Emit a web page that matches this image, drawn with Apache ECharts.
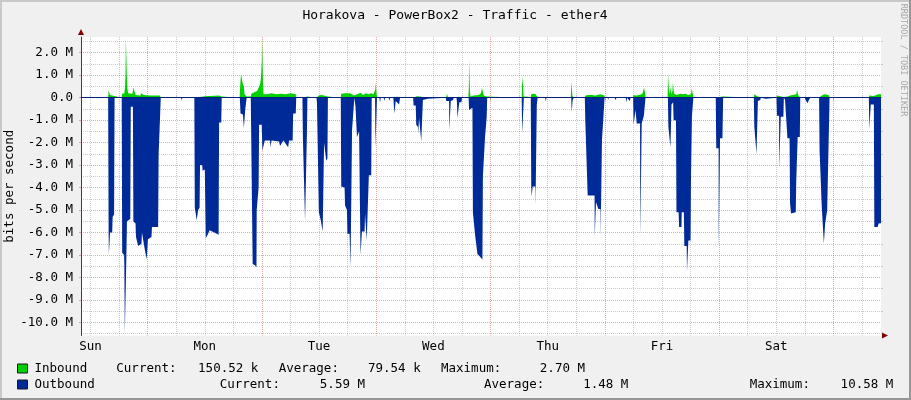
<!DOCTYPE html>
<html><head><meta charset="utf-8">
<script src="https://cdn.jsdelivr.net/npm/echarts@6.0.0/dist/echarts.min.js"></script>
<style>html,body{margin:0;padding:0;background:#F0F0F0}#c{width:911px;height:400px}</style>
</head><body><div id="c"></div><script>
// ---- data (hours since start of graph = Sun 10:00; values in Mbit/s, outbound drawn negative) ----
const START_HOUR = 10;           // graph starts Sunday 10:00 (hours since Sun 00:00)
const SPAN_HOURS = 168;
const dayLabels = ['Sun','Mon','Tue','Wed','Thu','Fri','Sat'];
const yTickValues = [-10,-9,-8,-7,-6,-5,-4,-3,-2,-1,0,1,2];
const yMin = -10.58, yMax = 2.70;
const legendNames = ['Inbound','Outbound'];
const inboundStats = ['150.52 k','79.54 k','2.70 M'];   // current, average, maximum
const outboundStats = ['5.59 M','1.48 M','10.58 M'];
const statLabels = ['Current:','Average:','Maximum:'];

const inbound = [
[0,0],[5.7,0],[5.8,0.33],[5.95,0.28],[6.1,0.12],[7.0,0.08],[7.05,0],
[8.55,0],[8.65,0.18],[9.1,0.2],[9.25,0.5],[9.35,1.0],[9.42,2.7],[9.55,2.7],[9.62,1.0],[9.75,0.4],[9.9,0.2],[10.8,0.18],[11.0,0.45],[11.2,0.3],[11.5,0.12],[12.5,0.1],[12.6,0.2],[13.0,0.18],[13.2,0.12],[14.5,0.1],[14.7,0.18],[15.0,0.1],[16.6,0.1],[16.75,0],
[23.8,0],[23.9,0.06],[26.0,0.06],[26.2,0.1],[29.0,0.1],[29.5,0.05],[29.55,0],
[33.3,0],[33.45,0.6],[33.6,1.07],[33.72,1.07],[33.8,0.8],[34.0,0.6],[34.2,0.5],[34.35,0.15],[34.8,0.05],
[35.65,0.05],[35.8,0.18],[36.5,0.25],[37.0,0.3],[37.4,0.3],[37.6,0.6],[37.8,0.9],[37.95,1.6],[38.02,2.7],[38.14,2.7],[38.22,0.6],[38.35,0.15],[39.0,0.15],[40.0,0.2],[41.0,0.15],[42.0,0.18],[43.0,0.15],[44.0,0.2],[45.1,0.15],[45.2,0],
[46.5,0],[46.6,0.05],[47.5,0.05],[47.55,0],
[49.45,0],[49.55,0.05],[49.9,0.1],[50.3,0.18],[50.6,0.12],[51.0,0.1],[51.8,0.05],[51.85,0],
[54.55,0],[54.65,0.18],[55.5,0.2],[55.9,0.25],[56.5,0.2],[57.3,0.1],[57.55,0.1],[58.0,0.15],[58.8,0.22],[59.2,0.12],[59.8,0.2],[60.4,0.15],[60.95,0.2],[61.05,0.12],[61.4,0.15],[61.8,0.35],[61.9,0.66],[62.02,0.66],[62.1,0.1],[62.3,0],
[65.6,0],[65.8,0.05],[66.3,0.04],[66.5,0],
[69.75,0],[69.85,0.04],[70.5,0.06],[70.8,0.08],[71.2,0.05],[71.8,0.03],[71.9,0],
[76.7,0],[76.85,0.18],[76.97,0.18],[77.05,0.03],[78.2,0.02],[78.3,0],
[78.85,0],[78.95,0.05],[79.3,0.04],[79.9,0.02],[80.0,0],
[81.35,0],[81.45,0.5],[81.5,1.7],[81.62,1.7],[81.68,0.3],[81.8,0.05],[82.2,0.08],[82.4,0.1],[83.5,0.12],[84.0,0.2],[84.2,0.45],[84.35,0.3],[84.6,0.1],[85.2,0.05],[85.3,0],
[92.55,0],[92.65,0.95],[92.78,0.95],[92.85,0.5],[92.95,0.05],[94.45,0.03],[94.55,0.15],[95.0,0.18],[95.5,0.15],[95.8,0.1],[95.9,0],
[102.85,0],[103.0,0.7],[103.12,0.7],[103.2,0.1],[103.4,0],
[105.8,0],[105.95,0.1],[106.5,0.12],[106.8,0.18],[107.2,0.12],[107.5,0.18],[108.0,0.1],[109.0,0.15],[109.9,0.1],[110.0,0],
[115.95,0],[116.05,0.12],[116.5,0.1],[116.9,0.15],[117.3,0.12],[117.9,0.18],[118.25,0.45],[118.37,0.45],[118.45,0.2],[118.55,0],
[123.2,0],[123.27,1.1],[123.38,1.1],[123.45,0.4],[123.6,0.15],[123.75,0.5],[123.87,0.5],[123.95,0.15],[124.2,0.3],[124.3,0.7],[124.42,0.7],[124.5,0.2],[125.0,0.12],[125.5,0.15],[126.0,0.18],[126.5,0.15],[127.0,0.18],[127.5,0.12],[128.1,0.15],[128.25,0.4],[128.37,0.4],[128.45,0.2],[128.6,0],
[133.3,0],[133.4,0.05],[134.7,0.05],[134.85,0],
[141.3,0],[141.4,0.15],[141.7,0.1],[142.1,0.05],[142.7,0.03],[142.8,0],
[146.05,0],[146.2,0.1],[146.6,0.05],[147.5,0.03],[147.6,0],
[147.8,0],[148.4,0.05],[148.9,0.1],[149.5,0.12],[150.2,0.15],[150.4,0.33],[150.52,0.33],[150.6,0.12],[151.0,0.05],[151.05,0],
[155.0,0],[155.1,0.08],[155.7,0.12],[156.3,0.15],[157.1,0.1],[157.2,0],
[165.45,0],[165.55,0.1],[165.8,0.06],[166.5,0.08],[167.0,0.12],[167.5,0.15],[168,0.15]
];

const outbound = [
[0,0],[5.7,0],[5.8,-6.0],[5.85,-7.0],[6.05,-7.0],[6.1,-6.0],[6.55,-6.0],[6.65,-5.3],[6.95,-5.2],[7.05,0],
[8.55,0],[8.65,-6.9],[9.05,-7.0],[9.1,-7.4],[9.2,-10.5],[9.38,-10.5],[9.5,-7.4],[9.65,-5.5],[10.35,-5.4],[10.45,-0.4],[10.9,-0.4],
[11.0,-5.5],[11.45,-5.6],[11.55,-6.2],[12.0,-6.6],[12.7,-6.5],[12.8,-6.0],[13.2,-6.0],[13.35,-6.7],[13.8,-7.2],[14.0,-7.25],[14.05,-6.3],[14.8,-6.2],[14.9,-5.75],[16.2,-5.75],[16.3,-2.55],[16.6,-2.55],[16.75,0],
[17.9,0],[18.05,-0.06],[18.2,0],[21.0,0],[21.15,-0.1],[21.3,0],
[23.8,0],[23.9,-4.9],[24.25,-4.9],[24.3,-5.45],[24.5,-5.45],[24.6,-5.0],[24.9,-4.9],[25.0,-3.0],[25.45,-3.0],[25.55,-3.25],[26.0,-3.2],[26.2,-6.25],[26.6,-6.1],[27.0,-5.9],[28.0,-6.0],[28.9,-6.1],[29.0,-1.1],[29.45,-1.1],[29.55,0],
[33.35,0],[33.5,-0.7],[34.0,-0.75],[34.2,-1.35],[34.4,-1.35],[34.5,-0.5],[34.8,0],
[35.65,0],[35.75,-1.75],[35.95,-1.8],[36.05,-7.4],[36.55,-7.45],[36.85,-7.55],[36.9,-5.0],[37.3,-4.0],[37.4,-1.2],[37.95,-1.2],[38.1,-2.35],[38.45,-2.35],[38.6,-1.9],[39.7,-1.9],[39.8,-2.2],[40.0,-1.9],[41.6,-1.95],[41.8,-2.15],[42.5,-1.9],[43.5,-2.2],[43.7,-1.9],[44.45,-1.9],[44.55,-0.7],[45.1,-0.7],[45.2,0],
[46.5,0],[46.6,-1.8],[46.95,-1.8],[47.05,-5.5],[47.35,-5.5],[47.45,-1.5],[47.55,0],
[49.45,0],[49.55,-0.2],[49.85,-0.2],[49.95,-5.1],[50.3,-5.1],[50.35,-5.45],[50.65,-5.5],[50.75,-5.95],[50.95,-6.0],[51.05,-2.0],[51.4,-2.0],[51.5,-2.8],[51.75,-2.7],[51.85,0],
[54.55,0],[54.65,-3.95],[55.35,-4.0],[55.45,-4.8],[55.85,-5.0],[55.95,-6.05],[56.4,-6.05],[56.55,-6.1],[56.6,-7.55],[56.85,-7.55],[56.92,-1.45],[57.3,-1.45],[57.4,0],
[57.55,0],[57.65,-0.4],[57.85,-0.4],[57.95,-1.75],[58.3,-1.75],[58.4,-1.5],[58.65,-1.5],[58.7,-7.0],[58.95,-7.0],[59.0,-5.95],[59.55,-5.95],[59.65,-5.15],[59.9,-5.2],[60.0,-6.35],[60.35,-6.3],[60.45,-3.45],[60.95,-3.45],[61.05,0],
[61.75,0],[61.85,-2.2],[62.05,-2.2],[62.15,0],
[62.65,0],[62.8,-0.2],[62.95,0],[63.55,0],[63.7,-0.15],[63.85,0],[64.6,0],[64.75,-0.15],[64.9,0],[65.6,0],[65.8,-0.7],[65.95,-0.7],[66.1,-0.15],[66.8,-0.3],[67.0,0],
[69.75,0],[69.85,-0.35],[70.3,-0.35],[70.4,-1.2],[70.75,-1.3],[70.8,-1.6],[70.95,-1.6],[71.0,-0.9],[71.35,-0.85],[71.45,-1.95],[71.65,-1.95],[71.8,-0.1],[72.8,-0.05],[73.2,0],
[76.6,0],[76.7,-0.15],[77.3,-0.15],[77.35,-1.45],[77.55,-1.45],[77.65,-0.15],[78.15,-0.1],[78.25,0],
[78.85,0],[78.95,-0.2],[79.05,-0.9],[79.3,-0.95],[79.45,-0.2],[79.9,-0.2],[80.0,0],
[81.4,0],[81.5,-0.55],[82.2,-0.45],[82.3,-5.1],[82.65,-5.1],[82.75,-6.1],[83.15,-6.1],[83.25,-6.95],[83.7,-7.05],[84.3,-7.2],[84.4,-3.5],[84.75,-3.5],[84.85,-1.75],[85.2,-0.85],[85.3,0],
[92.55,0],[92.65,-1.6],[92.85,-1.6],[93.0,0],
[94.45,0],[94.55,-3.95],[94.65,-4.4],[94.8,-4.4],[94.85,-3.95],[95.4,-3.95],[95.45,-4.8],[95.65,-4.8],[95.72,-0.3],[95.9,0],
[97.45,0],[97.6,-0.15],[97.75,0],
[102.95,0],[103.05,-0.65],[103.15,-0.65],[103.25,-0.1],[103.5,0],
[105.8,0],[105.9,-1.0],[106.3,-1.0],[106.4,-4.35],[107.85,-4.35],[107.88,-6.2],[108.1,-6.2],[108.15,-4.65],[108.55,-4.65],[108.65,-4.95],[109.1,-4.95],[109.12,-6.25],[109.35,-6.25],[109.4,-1.9],[109.8,-1.9],[109.95,0],
[110.6,0],[110.7,-0.1],[110.8,0],[112.1,0],[112.2,-0.1],[112.4,-0.05],[112.5,0],[114.4,0],[114.55,-0.2],[114.7,0],[115.1,0],[115.25,-0.15],[115.4,0],
[115.95,0],[116.05,-1.2],[116.35,-1.2],[116.45,-0.55],[116.6,-0.55],[116.7,-1.15],[117.4,-1.15],[117.45,-6.2],[117.7,-6.2],[117.75,-1.15],[118.1,-1.15],[118.2,-0.8],[118.45,-0.8],[118.55,0],
[123.25,0],[123.35,-1.3],[123.75,-1.3],[123.78,-2.2],[123.97,-2.2],[124.0,-0.3],[124.35,-0.2],[124.45,-1.0],[124.95,-1.0],[125.05,-5.1],[125.5,-5.1],[125.6,-5.75],[126.1,-5.75],[126.15,-5.1],[126.6,-5.1],[126.7,-6.6],[127.2,-6.6],[127.25,-7.75],[127.5,-7.75],[127.55,-6.35],[128.0,-6.35],[128.1,-3.5],[128.3,-0.8],[128.5,-0.8],[128.6,0],
[133.3,0],[133.4,-2.25],[133.9,-2.25],[133.92,-6.8],[134.15,-6.8],[134.2,-1.8],[134.7,-1.8],[134.85,0],
[141.3,0],[141.4,-1.3],[141.75,-1.3],[141.85,-2.5],[142.05,-2.5],[142.15,-0.15],[142.65,-0.1],[142.75,0],
[143.0,0],[143.1,-0.05],[143.8,-0.05],[143.9,0],
[146.05,0],[146.15,-0.8],[146.6,-0.8],[146.62,-3.2],[146.88,-3.2],[146.95,-0.85],[147.5,-0.85],[147.6,0],
[147.75,0],[147.85,-0.1],[148.25,-0.15],[148.35,-1.8],[148.8,-1.8],[148.9,-4.7],[149.1,-5.15],[149.25,-5.1],[150.1,-5.1],[150.2,-3.75],[150.4,-3.75],[150.5,-1.75],[150.95,-1.75],[151.05,0],
[152.0,0],[152.15,-0.1],[152.6,-0.25],[152.85,-0.1],[153.15,0],
[155.0,0],[155.1,-2.35],[155.45,-2.35],[155.55,-4.8],[155.95,-4.8],[156.0,-6.5],[156.22,-6.5],[156.27,-5.6],[156.6,-5.6],[156.7,-5.0],[157.1,-5.0],[157.2,0],
[165.45,0],[165.55,-1.4],[165.72,-1.4],[165.85,-0.3],[166.5,-0.3],[166.6,-5.75],[167.3,-5.75],[167.5,-5.6],[168,-5.59]
];

// ---- derived tick positions ----
const xMin = START_HOUR, xMax = START_HOUR + SPAN_HOURS;
const labelHours = dayLabels.map((d, i) => 12 + 24 * i);
const majorHours = [], minorHours = [];
for (let h = 12; h < xMax; h += 6) { if (h % 24 === 0) majorHours.push(h); else minorHours.push(h); }
const yMinor = [];
for (let v = -10.5; v <= 2.5; v += 1) yMinor.push(v);

const FONT = 'DejaVu Sans Mono';
const GRID = {left: 81, top: 37, width: 800, height: 298.5};
const MGRID = 'rgba(222,79,79,0.5)';
const MINGRID = 'rgba(143,143,143,0.45)';
const DASH = [1, 1];

const chart = echarts.init(document.getElementById('c'), null, {renderer: 'canvas'});

function statTexts(values, labelXs, valueRightXs, y) {
  const els = [];
  statLabels.forEach((lab, i) => {
    els.push({type: 'text', x: labelXs[i], y: y, style: {text: lab, font: '12.5px ' + FONT, fill: '#000', align: 'left', verticalAlign: 'middle'}});
    els.push({type: 'text', x: valueRightXs[i], y: y, style: {text: values[i], font: '12.5px ' + FONT, fill: '#000', align: 'right', verticalAlign: 'middle'}});
  });
  return els;
}

const plotRight = GRID.left + GRID.width, plotBottom = GRID.top + GRID.height;

chart.setOption({
  animation: false,
  backgroundColor: '#F0F0F0',
  textStyle: {fontFamily: FONT},
  grid: {left: GRID.left, top: GRID.top, width: GRID.width, height: GRID.height, show: true, backgroundColor: '#FFFFFF', borderWidth: 0, containLabel: false},
  legend: legendNames.map((name, i) => ({
    data: [name], left: 17, top: 361.5 + 16 * i, orient: 'vertical', padding: 0,
    icon: 'rect', itemWidth: 10, itemHeight: 9, selectedMode: false,
    itemStyle: {borderColor: '#1a1a1a', borderWidth: 1},
    textStyle: {fontFamily: FONT, fontSize: 12.5, color: '#000', lineHeight: 14, padding: [0, 0, 0, 2]}
  })),
  xAxis: [{
    type: 'value', min: xMin, max: xMax, position: 'bottom',
    axisLine: {show: true, lineStyle: {color: '#404040', width: 1}},
    axisTick: {show: true, customValues: majorHours, length: 3, lineStyle: {color: MGRID}},
    axisLabel: {customValues: labelHours, formatter: v => dayLabels[Math.round((v - 12) / 24)], fontFamily: FONT, fontSize: 12.5, color: '#000', margin: 5, lineHeight: 13},
    splitLine: {show: true, lineStyle: {color: MGRID, type: DASH, width: 1}}
  }, {
    type: 'value', min: xMin, max: xMax, position: 'top',
    axisLine: {show: false},
    axisTick: {show: true, customValues: minorHours, length: 2, lineStyle: {color: MINGRID}},
    axisLabel: {show: false},
    splitLine: {show: true, lineStyle: {color: MINGRID, type: DASH, width: 1}}
  }],
  yAxis: [{
    type: 'value', min: yMin, max: yMax, position: 'left',
    axisLine: {show: true, lineStyle: {color: '#404040', width: 1}},
    axisTick: {show: true, customValues: yTickValues, length: 2, lineStyle: {color: MGRID}},
    axisLabel: {customValues: yTickValues, formatter: v => v === 0 ? '0.0' : v.toFixed(1) + ' M', fontFamily: FONT, fontSize: 12.5, color: '#000', margin: 8},
    splitLine: {show: true, lineStyle: {color: MGRID, type: DASH, width: 1}}
  }, {
    type: 'value', min: yMin, max: yMax, position: 'right',
    axisLine: {show: false},
    axisTick: {show: true, customValues: yMinor, length: 2, lineStyle: {color: MINGRID}},
    axisLabel: {show: false},
    splitLine: {show: true, lineStyle: {color: MINGRID, type: DASH, width: 1}}
  }],
  series: [{
    name: 'Inbound', type: 'line', xAxisIndex: 0, yAxisIndex: 0,
    data: inbound.map(p => [START_HOUR + p[0], p[1]]),
    symbol: 'none', showSymbol: false, silent: true,
    color: '#00CF00',
    lineStyle: {width: 0, color: '#00CF00'},
    areaStyle: {color: '#00CF00', opacity: 1}
  }, {
    name: 'Outbound', type: 'line', xAxisIndex: 0, yAxisIndex: 0,
    data: outbound.map(p => [START_HOUR + p[0], p[1]]),
    symbol: 'none', showSymbol: false, silent: true,
    color: '#002A97',
    lineStyle: {width: 0, color: '#002A97'},
    areaStyle: {color: '#002A97', opacity: 1},
    markLine: {silent: true, symbol: ['none', 'none'], label: {show: false},
      lineStyle: {color: '#00207a', width: 1, type: 'solid'}, data: [{yAxis: 0}]}
  }],
  graphic: [
    {type: 'rect', shape: {x: 0, y: 0, width: 911, height: 2}, style: {fill: '#C8C8C8'}, silent: true},
    {type: 'rect', shape: {x: 0, y: 0, width: 2, height: 400}, style: {fill: '#C8C8C8'}, silent: true},
    {type: 'rect', shape: {x: 0, y: 398, width: 911, height: 2}, style: {fill: '#969696'}, silent: true},
    {type: 'rect', shape: {x: 909, y: 0, width: 2, height: 400}, style: {fill: '#969696'}, silent: true},
    {type: 'text', x: 455, y: 15.5, style: {text: 'Horakova - PowerBox2 - Traffic - ether4', font: '13px ' + FONT, fill: '#000', align: 'center', verticalAlign: 'middle'}},
    {type: 'text', x: 10, y: GRID.top + GRID.height / 2, rotation: Math.PI / 2, style: {text: 'bits per second', font: '12.5px ' + FONT, fill: '#000', align: 'center', verticalAlign: 'middle'}},
    {type: 'text', x: 903, y: 60, rotation: -Math.PI / 2, style: {text: 'RRDTOOL / TOBI OETIKER', font: '8.5px ' + FONT, fill: '#A8A8A8', align: 'center', verticalAlign: 'middle'}},
    {type: 'polygon', shape: {points: [[plotRight + 1, plotBottom - 3], [plotRight + 7, plotBottom], [plotRight + 1, plotBottom + 3]]}, style: {fill: '#800000'}, silent: true},
    {type: 'polygon', shape: {points: [[GRID.left - 3, GRID.top - 2], [GRID.left, GRID.top - 8], [GRID.left + 3, GRID.top - 2]]}, style: {fill: '#800000'}, silent: true},
    ...statTexts(inboundStats, [116.3, 278.7, 441], [258.3, 420.7, 585], 368.5),
    ...statTexts(outboundStats, [219.7, 484, 749.7], [365, 628.3, 893.3], 384.5)
  ]
});
</script></body></html>
